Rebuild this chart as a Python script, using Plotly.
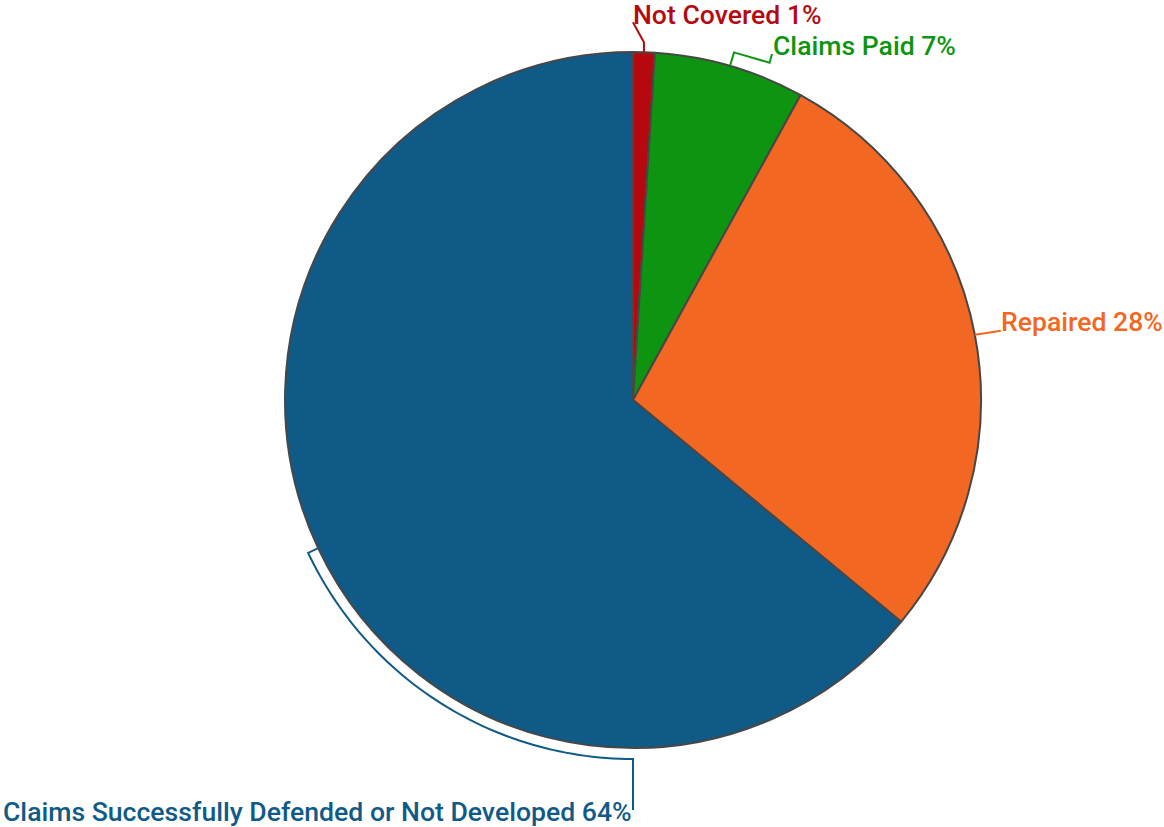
import math
import plotly.graph_objects as go

# Claim outcomes (percent of all claims), clockwise from 12 o'clock
labels = ["Not Covered", "Claims Paid", "Repaired", "Claims Successfully Defended or Not Developed"]
values = [1, 7, 28, 64]
colors = ["#b5090f", "#0d9410", "#f26722", "#105a87"]

W, H = 1164, 827
CX, CY, R = 633, 400, 348  # pie centre and radius in pixels


def px(x):
    return x / W


def py(y):
    return 1 - y / H


def polar(frac, r):
    """Pixel point at fraction `frac` of the full turn (clockwise from top)."""
    a = 2 * math.pi * frac
    return CX + r * math.sin(a), CY - r * math.cos(a)


def path(points):
    return "M " + " L ".join(f"{px(x):.5f},{py(y):.5f}" for x, y in points)


total = sum(values)
mids = []
acc = 0
for v in values:
    mids.append((acc + v / 2) / total)
    acc += v

fig = go.Figure(
    go.Pie(
        labels=labels,
        values=values,
        sort=False,
        direction="clockwise",
        rotation=0,
        marker=dict(colors=colors, line=dict(color="#474747", width=2)),
        textinfo="none",
        hoverinfo="label+percent",
        showlegend=False,
        domain=dict(x=[px(CX - R), px(CX + R)], y=[py(CY + R), py(CY - R)]),
    )
)

shapes = []
annotations = []
font_family = "Roboto, Arial, sans-serif"
FS = 26.6

# Not Covered: short vertical stub then diagonal to label
e = polar(mids[0], R)
p1 = (e[0], e[1] - 10)
p2 = (e[0] - 11, e[1] - 30)
shapes.append(dict(type="path", path=path([e, p1, p2]), line=dict(color=colors[0], width=2)))
annotations.append(dict(text=f"{labels[0]} {values[0]}%", x=px(p2[0] - 2), y=py(p2[1] - 8),
                        xanchor="left", yanchor="middle", font=dict(color=colors[0])))

# Claims Paid: bracket-shaped connector
a = 2 * math.pi * mids[1]
rad = (math.sin(a), -math.cos(a))
tan = (math.cos(a), math.sin(a))
e = polar(mids[1], R)
q1 = (e[0] + 14 * rad[0], e[1] + 14 * rad[1])
q2 = (q1[0] + 37 * tan[0], q1[1] + 37 * tan[1])
q3 = (q2[0] + 9 * rad[0], q2[1] + 9 * rad[1])
shapes.append(dict(type="path", path=path([e, q1, q2, q3]), line=dict(color=colors[1], width=2)))
annotations.append(dict(text=f"{labels[1]} {values[1]}%", x=px(q3[0] - 1), y=py(q3[1] - 9),
                        xanchor="left", yanchor="middle", font=dict(color=colors[1])))

# Repaired: straight connector
e = polar(mids[2], R)
r1 = (e[0] + 26, e[1] - 4)
shapes.append(dict(type="path", path=path([e, r1]), line=dict(color=colors[2], width=2)))
annotations.append(dict(text=f"{labels[2]} {values[2]}%", x=px(r1[0] - 2), y=py(r1[1] - 10),
                        xanchor="left", yanchor="middle", font=dict(color=colors[2])))

# Largest slice: connector hugs the rim down to the bottom, then drops to the label
RO = R + 11
e = polar(mids[3], R)
pts = [e]
n = 60
for i in range(n + 1):
    f = mids[3] + (0.5 - mids[3]) * i / n
    pts.append(polar(f, RO))
bottom = pts[-1]
pts.append((bottom[0], bottom[1] + 51))
shapes.append(dict(type="path", path=path(pts), line=dict(color=colors[3], width=2)))
annotations.append(dict(text=f"{labels[3]} {values[3]}%", x=px(bottom[0] + 1), y=py(bottom[1] + 52),
                        xanchor="right", yanchor="middle", font=dict(color=colors[3])))

for ann in annotations:
    ann.update(xref="paper", yref="paper", showarrow=False, height=30)
    ann["font"].update(family=font_family, size=FS, weight=500)
for s in shapes:
    s.update(xref="paper", yref="paper", layer="above")

fig.update_layout(
    width=W,
    height=H,
    margin=dict(l=0, r=0, t=0, b=0),
    paper_bgcolor="white",
    plot_bgcolor="white",
    shapes=shapes,
    annotations=annotations,
    font=dict(family=font_family),
)

fig.write_html("out.html")
